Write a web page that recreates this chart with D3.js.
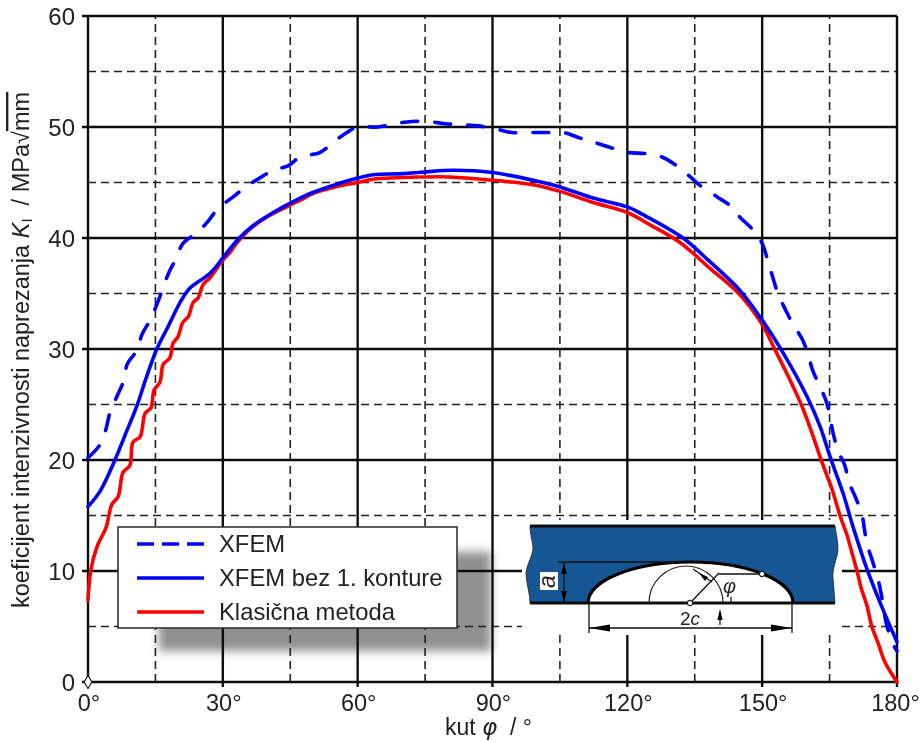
<!DOCTYPE html>
<html><head><meta charset="utf-8">
<script src="https://cdn.jsdelivr.net/npm/d3@7"></script>
<style>html,body{margin:0;background:#fff}svg{display:block}text{font-family:"Liberation Sans",Arial,sans-serif;fill:#222;white-space:pre}</style>
</head><body><svg id="c" width="921" height="742"></svg>
<script>
const xMajor=[0,30,60,90,120,150,180];
const xMinor=[15,45,75,105,135,165];
const yMajor=[0,10,20,30,40,50,60];
const yMinor=[5,15,25,35,45,55];
const xfem=[[0,20.2],[2.7,21.4],[4,22.8],[4.9,24.3],[6.4,25.7],[8,27.2],[8.7,28.6],[10.9,29.9],[12,31.3],[13.8,32.6],[15.3,34],[16.7,35.5],[17.9,36.8],[19.8,38.3],[21.1,39.5],[24.3,40.5],[26.7,41.5],[29,42.7],[32.3,43.7],[35,44.6],[37.8,45.3],[41.2,46.1],[44.5,46.5],[47.2,47.3],[51.6,47.7],[54.5,48.6],[57.6,49.5],[60,50],[64.5,50],[68.3,50.3],[72,50.5],[75.7,50.5],[79.4,50.3],[83.4,50.2],[86.8,50.1],[91,49.8],[94.3,49.5],[98.4,49.5],[102,49.5],[105.7,49.5],[109.5,49],[112.8,48.6],[116.6,48.1],[120.2,47.7],[124,47.6],[127.7,47.3],[131,46.5],[134,45.5],[136.6,44.6],[140,43.7],[142.9,42.9],[145,41.9],[148,40.7],[150,39.5],[151.3,37.9],[152.4,36.4],[153.5,35],[155.1,33.6],[156.9,32.2],[158.9,30.9],[160.2,29.5],[161.3,28],[162.9,26.6],[164.4,25.1],[165.8,22.4],[166.9,20.8],[168.4,19.5],[169.3,18],[170.7,16.7],[172.2,15.1],[172.7,13.9],[173.3,12.5],[174.7,10.7],[175.8,9.2],[176.5,7.9],[177.1,6.4],[177.8,5],[179,3.5],[180,2.8]];
const xfemBez=[[0,15.8],[2.7,17.2],[6,20],[8.2,22.2],[10.9,24.9],[12.7,27.1],[15.3,30],[17.8,32],[20.5,34.2],[22.7,35.5],[27.1,36.8],[30,38.2],[33.2,39.8],[36.7,41.1],[41.2,42.3],[47.2,43.6],[50,44.1],[55,44.8],[60,45.4],[63.4,45.7],[70,45.8],[75,45.95],[81.2,46.1],[90,45.9],[99,45.2],[105,44.6],[112.4,43.6],[120,42.8],[123.5,42.1],[132.4,40],[138,38],[145,35.3],[150,32.6],[154,30.1],[160,25.7],[162.9,23],[165.1,20.3],[168,17],[170.2,14],[173.3,10.2],[176.7,6.7],[180,3.6]];
const klasicna=[[0,7.4],[0.6,10],[2,12.2],[4,13.9],[5.3,16],[6.7,16.7],[7.8,18.9],[9.3,19.5],[10,21.6],[11.6,22.1],[12.7,24.2],[14,24.7],[14.7,26.3],[16,27],[16.7,28.6],[18.2,29.2],[18.9,30.5],[20,31.1],[21.1,32.4],[22.3,32.9],[23.4,34.2],[24.5,34.6],[25.6,35.8],[27.1,36.4],[30,38],[31.6,38.7],[33.2,39.6],[36,40.8],[39.8,41.9],[47.2,43.4],[50,44],[55,44.6],[60,45],[63.4,45.3],[74.5,45.5],[80.5,45.5],[90,45.2],[99,44.8],[105,44.2],[112.4,43.2],[120,42.3],[125,41.2],[131.7,39.6],[138,37.4],[145,34.9],[150,32.2],[152.9,29.9],[156.2,27.2],[158.9,24.8],[161.1,22.4],[163.3,19.8],[165.6,17.3],[167.3,15],[168.9,13.2],[170,11.6],[171.1,10],[172,8.5],[173.3,6.9],[174.4,5],[175.8,3.5],[177.3,1.8],[180,0]];
const legendLabels=["XFEM","XFEM bez 1. konture","Klasična metoda"];

const root=d3.select("#c");
const x=d3.scaleLinear().domain([0,180]).range([88,897]);
const y=d3.scaleLinear().domain([0,60]).range([682,16]);
const defs=root.append("defs");
defs.append("filter").attr("id","sh").attr("x","-10%").attr("y","-20%").attr("width","120%").attr("height","140%")
  .append("feGaussianBlur").attr("stdDeviation",5);
defs.append("filter").attr("id","soft").attr("filterUnits","userSpaceOnUse").attr("x",0).attr("y",0).attr("width",921).attr("height",742)
  .append("feGaussianBlur").attr("stdDeviation",0.45);
const svg=root.append("g").attr("filter","url(#soft)");
svg.append("rect").attr("width",921).attr("height",742).attr("fill","#fff");
svg.append("rect").attr("x",159).attr("y",552).attr("width",332).attr("height",99).attr("fill","#909090").attr("filter","url(#sh)");

const grid=svg.append("g");
const dash="8 5";
grid.selectAll(".hm").data(yMinor).join("line").attr("x1",x(0)).attr("x2",x(180)).attr("y1",d=>y(d)).attr("y2",d=>y(d))
  .attr("stroke","#222").attr("stroke-width",1.6).attr("stroke-dasharray",dash);
grid.selectAll(".vm").data(xMinor).join("line").attr("x1",d=>x(d)).attr("x2",d=>x(d)).attr("y1",y(0)).attr("y2",y(60))
  .attr("stroke","#222").attr("stroke-width",1.6).attr("stroke-dasharray",dash);
grid.selectAll(".hM").data(yMajor).join("line").attr("x1",x(0)-6).attr("x2",x(180)).attr("y1",d=>y(d)).attr("y2",d=>y(d))
  .attr("stroke","#111").attr("stroke-width",2.4);
grid.selectAll(".vM").data(xMajor).join("line").attr("x1",d=>x(d)).attr("x2",d=>x(d)).attr("y1",y(0)+5).attr("y2",y(60))
  .attr("stroke","#111").attr("stroke-width",2.4);

svg.append("rect").attr("x",522).attr("y",520).attr("width",320).attr("height",115).attr("fill","#fff");

const tl=svg.append("g");
tl.selectAll(".yl").data(yMajor).join("text").attr("x",75).attr("y",d=>y(d)+8.5).attr("text-anchor","end").attr("font-size",24).text(d=>d);
tl.selectAll(".xl").data(xMajor).join("text").attr("x",d=>Math.min(x(d)+1,895.5)).attr("y",711).attr("text-anchor","middle").attr("font-size",23.5).text(d=>d+"°");

const xt=svg.append("text").attr("x",445).attr("y",735).attr("font-size",23);
xt.append("tspan").text("kut ");
xt.append("tspan").attr("font-style","italic").attr("font-family","DejaVu Sans").text("φ");
xt.append("tspan").text("  / °");
const yt=svg.append("text").attr("transform","translate(29,608) rotate(-90)").attr("font-size",23.5);
yt.append("tspan").text("koeficijent intenzivnosti naprezanja ");
yt.append("tspan").attr("font-style","italic").text("K");
yt.append("tspan").attr("font-size",15).attr("dy",3).text("I");
yt.append("tspan").attr("dy",-3).text("  / MPa√");
yt.append("tspan").attr("text-decoration","overline").text("mm");

const line=d3.line().x(d=>x(d[0])).y(d=>y(d[1])).curve(d3.curveCatmullRom.alpha(0.5));
const series=[[xfem,"#0000ff","16 17"],[xfemBez,"#0000ff",null],[klasicna,"#ff0000",null]];
[series[0],series[2],series[1]].forEach(s=>{
  svg.append("path").attr("d",line(s[0])).attr("fill","none").attr("stroke",s[1]).attr("stroke-width",3.6).attr("stroke-linecap","round").attr("stroke-dasharray",s[2]);
});
svg.append("path").attr("d",d3.symbol(d3.symbolDiamond,50)()).attr("transform",`translate(${x(0)},${y(0)})`).attr("fill","#fff").attr("stroke","#222").attr("stroke-width",1.2);

const lg=svg.append("g");
lg.append("rect").attr("x",118).attr("y",527).attr("width",339).attr("height",101).attr("fill","#fff").attr("stroke","#333").attr("stroke-width",1.6);
legendLabels.forEach((t,i)=>{
  const ly=544+i*34;
  lg.append("line").attr("x1",137).attr("x2",204).attr("y1",ly).attr("y2",ly).attr("stroke",series[i][1]).attr("stroke-width",3.4).attr("stroke-dasharray",i==0?"17 8":null);
  lg.append("text").attr("x",219).attr("y",ly+8).attr("font-size",23.8).text(t);
});

const ins=svg.append("g");
const ell="M588,603 A102.5,41 0 0 1 793,603";
ins.append("path").attr("d","M530,526 L835,526 C836,533 838,541 838,550 C837,560 832,568 833,578 L835,603 L530,603 C530,593 526,583 526,573 C527,563 533,556 533,547 C532,540 530,533 530,526 Z").attr("fill","#135694").attr("stroke","#222").attr("stroke-width",0.8);
ins.append("path").attr("d",ell+" Z").attr("fill","#fff");
ins.append("path").attr("d",ell).attr("fill","none").attr("stroke","#000").attr("stroke-width",3);
const thin=(x1,y1,x2,y2,w)=>ins.append("line").attr("x1",x1).attr("y1",y1).attr("x2",x2).attr("y2",y2).attr("stroke","#111").attr("stroke-width",w||1.3);
thin(530,526,835,526,3.2);thin(530,603,835,603,3.2);
thin(558,562,680,562,1.4);
ins.append("path").attr("d","M649,603 A37,37 0 0 1 723,603").attr("fill","none").attr("stroke","#222").attr("stroke-width",1.2);
thin(690,603,719,573);thin(719,574,762,574);
thin(693,569,712,582);thin(731,597,731,603);
thin(564,563,564,602);
ins.append("path").attr("d","M564,563 l-2.8,11 h5.6 Z M564,602 l-2.8,-11 h5.6 Z M699,573 l9,4 -3,4 Z M720,609 l-2.6,11 h5.2 Z M589,628 l21,-3.5 v7 Z M792,628 l-21,-3.5 v7 Z").attr("fill","#000");
thin(589,628,792,628);thin(589,603,589,633);thin(792,603,792,633);thin(720,618,720,625);
ins.selectAll(".dot").data([[690,603],[762,574]]).join("circle").attr("cx",d=>d[0]).attr("cy",d=>d[1]).attr("r",2.6).attr("fill","#fff").attr("stroke","#222").attr("stroke-width",1.1);
ins.append("rect").attr("x",540).attr("y",572).attr("width",18).attr("height",18).attr("fill","#fff");
ins.append("text").attr("transform","translate(555,588) rotate(-90)").attr("font-size",23).attr("font-style","italic").text("a");
ins.append("text").attr("x",723).attr("y",593).attr("font-size",20).attr("font-style","italic").attr("font-family","DejaVu Sans").text("φ");
const tc=ins.append("text").attr("x",680).attr("y",625).attr("font-size",19);
tc.append("tspan").text("2");tc.append("tspan").attr("font-style","italic").text("c");
</script></body></html>
